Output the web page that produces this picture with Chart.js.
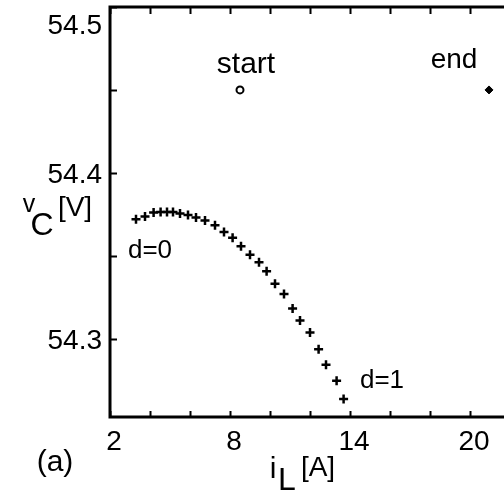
<!DOCTYPE html>
<html>
<head>
<meta charset="utf-8">
<script src="https://cdn.jsdelivr.net/npm/chart.js@4/dist/chart.umd.min.js"></script>
<style>
	html, body { margin: 0; padding: 0; background: #fff; overflow: hidden; }
	#wrap { width: 530px; height: 491px; }
</style>
</head>
<body>
<div id="wrap"><canvas id="vc-chart" width="530" height="491"></canvas></div>
<script>
// Orbit of the capacitor voltage against inductor current, panel (a).
var IL_VALUES = [ 3.3, 3.75, 4.18, 4.53, 4.85, 5.15, 5.5, 5.9, 6.3, 6.75, 7.25, 7.7, 8.13,
	8.55, 9.0, 9.45, 9.83, 10.25, 10.7, 11.13, 11.5, 12.0, 12.43, 12.8, 13.33, 13.68 ];
var VC_VALUES = [ 54.372, 54.3737, 54.3761, 54.3764, 54.3764, 54.3764, 54.3755, 54.3746,
	54.3731, 54.3713, 54.3684, 54.3644, 54.3608, 54.3557, 54.3506, 54.3461, 54.3407,
	54.3332, 54.327, 54.3182, 54.311, 54.3038, 54.2936, 54.2843, 54.2746, 54.2636 ];

var START_POINT = [ 8.5, 54.45 ];
var END_POINT   = [ 20.95, 54.45 ];

var X_TICKS       = [ 2, 4, 6, 8, 10, 12, 14, 16, 18, 20, 22 ];
var X_TICK_LABELS = [ 2, 8, 14, 20 ];
var Y_TICKS       = [ 54.3, 54.35, 54.4, 54.45, 54.5 ];
var Y_TICK_LABELS = [ '54.3', '54.4', '54.5' ];

( function () {
	'use strict';

	var FONT = '"Liberation Sans", Arial, Helvetica, sans-serif';
	var INK  = '#000';

	function text( ctx, str, x, y, size, align ) {
		ctx.font         = size + 'px ' + FONT;
		ctx.textAlign    = align || 'center';
		ctx.textBaseline = 'alphabetic';
		ctx.fillText( str, x, y );
	}

	// Frame, inward ticks and all the labels, placed through the scales.
	var framePlugin = {
		id: 'frame',
		afterDatasetsDraw: function ( chart ) {
			var ctx  = chart.ctx;
			var area = chart.chartArea;
			var xs   = chart.scales.x;
			var ys   = chart.scales.y;
			var i, px, py;

			ctx.save();
			ctx.strokeStyle = INK;
			ctx.fillStyle   = INK;

			ctx.lineWidth = 3;
			ctx.beginPath();
			ctx.moveTo( area.right + 5, area.top );
			ctx.lineTo( area.left, area.top );
			ctx.lineTo( area.left, area.bottom );
			ctx.lineTo( area.right + 5, area.bottom );
			ctx.stroke();

			ctx.lineWidth = 2;
			ctx.beginPath();
			for ( i = 0; i < X_TICKS.length; i++ ) {
				px = Math.round( xs.getPixelForValue( X_TICKS[ i ] ) ) + 0.5;
				ctx.moveTo( px, area.bottom );
				ctx.lineTo( px, area.bottom - 6 );
				ctx.moveTo( px, area.top );
				ctx.lineTo( px, area.top + 7 );
			}
			for ( i = 0; i < Y_TICKS.length; i++ ) {
				py = Math.round( ys.getPixelForValue( Y_TICKS[ i ] ) ) + 0.5;
				ctx.moveTo( area.left, py );
				ctx.lineTo( area.left + 7, py );
			}
			ctx.stroke();

			for ( i = 0; i < X_TICK_LABELS.length; i++ ) {
				px = xs.getPixelForValue( X_TICK_LABELS[ i ] );
				text( ctx, String( X_TICK_LABELS[ i ] ), px + 4, 450, 28 );
			}
			for ( i = 0; i < Y_TICK_LABELS.length; i++ ) {
				py = Math.max( ys.getPixelForValue( parseFloat( Y_TICK_LABELS[ i ] ) ), area.top + 17 );
				text( ctx, Y_TICK_LABELS[ i ], 102, py + 10, 28, 'right' );
			}

			text( ctx, 'start', 246, 73, 30 );
			text( ctx, 'end', 454, 68, 28 );
			text( ctx, 'd=0', 150, 258, 26 );
			text( ctx, 'd=1', 382, 388, 26 );
			text( ctx, '(a)', 55, 471, 30 );

			// v_C[V]
			text( ctx, 'v', 29, 212, 25 );
			text( ctx, 'C', 42, 235, 32 );
			text( ctx, '[V]', 75, 216, 28 );

			// i_L[A]
			text( ctx, 'i', 273, 478, 30 );
			text( ctx, 'L', 287, 490, 32 );
			text( ctx, '[A]', 318, 476, 28 );

			ctx.restore();
		},
	};

	var orbit = [];
	for ( var k = 0; k < IL_VALUES.length; k++ ) {
		orbit.push( { x: IL_VALUES[ k ], y: VC_VALUES[ k ] } );
	}

	new Chart( document.getElementById( 'vc-chart' ), {
		type: 'scatter',
		data: {
			datasets: [
				{
					data:        orbit,
					pointStyle:  'cross',
					pointRadius: 4.5,
					borderColor: INK,
					borderWidth: 2.5,
				},
				{
					data:            [ { x: START_POINT[ 0 ], y: START_POINT[ 1 ] } ],
					pointStyle:      'circle',
					pointRadius:     3.5,
					borderColor:     INK,
					backgroundColor: '#fff',
					borderWidth:     2,
				},
				{
					data:            [ { x: END_POINT[ 0 ], y: END_POINT[ 1 ] } ],
					pointStyle:      'rectRot',
					pointRadius:     4,
					borderColor:     INK,
					backgroundColor: INK,
					borderWidth:     1,
				},
			],
		},
		options: {
			responsive: false,
			animation:  false,
			layout:     { padding: { left: 110, top: 5, right: 20, bottom: 74 } },
			plugins:    {
				legend:  { display: false },
				tooltip: { enabled: false },
			},
			scales: {
				x: { type: 'linear', min: 2, max: 22, display: false },
				y: { type: 'linear', min: 54.2528, max: 54.5, display: false },
			},
		},
		plugins: [ framePlugin ],
	} );
} )();
</script>
</body>
</html>
